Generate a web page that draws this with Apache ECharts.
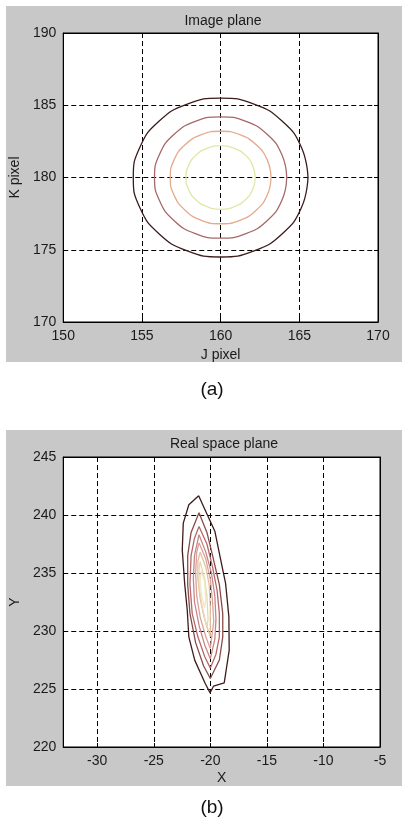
<!DOCTYPE html>
<html>
<head>
<meta charset="utf-8">
<script src="https://cdn.jsdelivr.net/npm/echarts@6/dist/echarts.min.js"></script>
<style>
  html, body { margin: 0; padding: 0; background: #fff; }
  #chart { position: absolute; left: 0; top: 0; width: 402px; height: 819px; }
  .panel { position: absolute; left: 6px; width: 396px; height: 356px; background: #c8c8c8; }
</style>
</head>
<body>
<div class="panel" style="top:6px"></div>
<div class="panel" style="top:430px"></div>
<div id="chart"></div>
<script>
// (a) image plane contours, J/K pixel
const imgXRange = [150, 170]
const imgYRange = [170, 190]
const imgColors = ['#3a1c1c', '#a66868', '#e4ab8c', '#dfe8a8']
const imgContour1 = [[165.55,180],[165.13,182.10],[163.92,183.89],[162.12,185.08],[160,185.5],[157.88,185.08],[156.08,183.89],[154.87,182.10],[154.45,180],[154.87,177.90],[156.08,176.11],[157.88,174.92],[160,174.5],[162.12,174.92],[163.92,176.11],[165.13,177.90],[165.55,180]]
const imgContour2 = [[164.2,180],[163.88,181.61],[162.97,182.97],[161.61,183.88],[160,184.2],[158.39,183.88],[157.03,182.97],[156.12,181.61],[155.8,180],[156.12,178.39],[157.03,177.03],[158.39,176.12],[160,175.8],[161.61,176.12],[162.97,177.03],[163.88,178.39],[164.2,180]]
const imgContour3 = [[163.2,180],[162.96,181.22],[162.26,182.26],[161.22,182.96],[160,183.2],[158.78,182.96],[157.74,182.26],[157.04,181.22],[156.8,180],[157.04,178.78],[157.74,177.74],[158.78,177.04],[160,176.8],[161.22,177.04],[162.26,177.74],[162.96,178.78],[163.2,180]]
const imgContour4 = [[162.2,180],[162.03,180.84],[161.56,181.56],[160.84,182.03],[160,182.2],[159.16,182.03],[158.44,181.56],[157.97,180.84],[157.8,180],[157.97,179.16],[158.44,178.44],[159.16,177.97],[160,177.8],[160.84,177.97],[161.56,178.44],[162.03,179.16],[162.2,180]]

// (b) real space plane contours, X/Y
const realXRange = [-33, -5]
const realYRange = [220, 245]
const realXTicks = [-30, -25, -20, -15, -10, -5]
const realColors = ['#3e1c1c', '#8a4a4a', '#b46a6a', '#c98686', '#d9a29c', '#e2c0a0', '#e8d8b0', '#eeeac4']
const realContour1 = [[-21.03,241.66],[-20.4,240.3],[-19.6,238.6],[-19.14,236.42],[-18.65,234.11],[-18.36,231.23],[-18.33,228.35],[-18.77,225.53],[-19.72,225.24],[-20.02,224.67],[-20.45,225.47],[-21.38,227.49],[-21.9,229.5],[-22.04,231.81],[-22.27,234.11],[-22.48,236.99],[-22.39,239.3],[-21.9,240.88],[-21.03,241.66]]
const realContour2 = [[-21.0,240.2],[-20.3,238.5],[-19.8,236.5],[-19.2,234],[-18.9,231.5],[-18.9,229.5],[-19.2,227.5],[-20.0,225.9],[-20.6,227],[-21.3,229],[-21.8,231.5],[-22.0,234],[-22.0,236.5],[-21.7,238.5],[-21.0,240.2]]
const realContour3 = [[-21.0,239.0],[-20.3,237.5],[-19.8,235.5],[-19.4,233.5],[-19.2,231.5],[-19.2,229.5],[-19.5,228],[-20.0,226.8],[-20.5,227.8],[-21.1,229.5],[-21.6,231.5],[-21.8,234],[-21.7,236.5],[-21.4,238],[-21.0,239.0]]
const realContour4 = [[-21.0,238.3],[-20.4,236.8],[-19.9,235],[-19.6,233],[-19.5,231],[-19.6,229.3],[-20.0,227.6],[-20.5,228.8],[-21.0,230.5],[-21.4,232.5],[-21.5,234.5],[-21.4,236.5],[-21.0,238.3]]
const realContour5 = [[-21.0,237.6],[-20.4,236.2],[-20.0,234.5],[-19.8,232.5],[-19.7,230.8],[-20.0,228.5],[-20.4,229.5],[-20.9,231.2],[-21.2,233],[-21.3,235],[-21.2,236.8],[-21.0,237.6]]
const realContour6 = [[-20.9,236.8],[-20.4,235.5],[-20.1,234],[-20.0,232],[-20.0,229.5],[-20.5,231],[-20.9,232.8],[-21.1,234.5],[-21.1,236],[-20.9,236.8]]
const realContour7 = [[-20.9,236.0],[-20.5,234.5],[-20.3,233],[-20.2,231],[-20.3,230.3],[-20.7,232],[-21.0,233.8],[-21.0,235.3],[-20.9,236.0]]
const realContour8 = [[-20.8,235.2],[-20.5,234.2],[-20.4,232.8],[-20.5,232.0],[-20.8,233.2],[-20.9,234.4],[-20.8,235.2]]

const font = 'Liberation Sans, Arial, sans-serif'
const dash = { color: '#000', width: 1, type: [5, 3] }

const mainAxis = (gridIndex, range, interval, name, position, extra) => Object.assign({
  type: 'value', gridIndex, position, min: range[0], max: range[1], interval,
  name, nameLocation: 'middle',
  nameTextStyle: { fontFamily: font, fontSize: 14, color: '#1a1a1a' },
  axisLine: { show: true, onZero: false, lineStyle: { color: '#000' } },
  axisTick: { show: true, inside: true, length: 4, lineStyle: { color: '#000' } },
  axisLabel: { fontFamily: font, fontSize: 14, color: '#1a1a1a', margin: 7 },
  splitLine: { show: true, lineStyle: dash }
}, extra || {})

const mirrorAxis = (gridIndex, range, interval, position, extra) => Object.assign({
  type: 'value', gridIndex, position, min: range[0], max: range[1], interval,
  axisLine: { show: true, onZero: false, lineStyle: { color: '#000' } },
  axisTick: { show: true, inside: true, length: 4, lineStyle: { color: '#000' } },
  axisLabel: { show: false },
  splitLine: { show: false }
}, extra || {})

const contour = (data, color, xAxisIndex, yAxisIndex, smooth) => ({
  type: 'line', data, xAxisIndex, yAxisIndex, smooth,
  symbol: 'none', silent: true, animation: false,
  lineStyle: { color, width: 1.3 }
})

const realTickExtra = {
  axisTick: { show: true, inside: true, length: 4, lineStyle: { color: '#000' }, customValues: realXTicks },
  axisLabel: { fontFamily: font, fontSize: 14, color: '#1a1a1a', margin: 7, customValues: realXTicks }
}

const option = {
  animation: false,
  title: [
    { text: 'Image plane', left: 218, top: 9, textAlign: 'center',
      textStyle: { fontFamily: font, fontSize: 14, fontWeight: 'normal', color: '#1a1a1a' } },
    { text: 'Real space plane', left: 219, top: 432, textAlign: 'center',
      textStyle: { fontFamily: font, fontSize: 14, fontWeight: 'normal', color: '#1a1a1a' } },
    { text: '(a)', left: 207, top: 375, textAlign: 'center',
      textStyle: { fontFamily: font, fontSize: 19, fontWeight: 'normal', color: '#111' } },
    { text: '(b)', left: 207, top: 793, textAlign: 'center',
      textStyle: { fontFamily: font, fontSize: 19, fontWeight: 'normal', color: '#111' } }
  ],
  grid: [
    { left: 58, top: 33, width: 320, height: 289, show: true, backgroundColor: '#fff', borderColor: '#000', borderWidth: 1 },
    { left: 59, top: 457, width: 321, height: 290, show: true, backgroundColor: '#fff', borderColor: '#000', borderWidth: 1 }
  ],
  xAxis: [
    mainAxis(0, imgXRange, 5, 'J pixel', 'bottom', { nameGap: 26 }),
    mainAxis(1, realXRange, null, 'X', 'bottom', Object.assign({ nameGap: 24 }, realTickExtra)),
    mirrorAxis(0, imgXRange, 5, 'top'),
    mirrorAxis(1, realXRange, null, 'top', { axisTick: { show: true, inside: true, length: 4, lineStyle: { color: '#000' }, customValues: realXTicks } })
  ],
  yAxis: [
    mainAxis(0, imgYRange, 5, 'K pixel', 'left', { nameGap: 38 }),
    mainAxis(1, realYRange, 5, 'Y', 'left', { nameGap: 40 }),
    mirrorAxis(0, imgYRange, 5, 'right'),
    mirrorAxis(1, realYRange, 5, 'right')
  ],
  series: [
    contour(imgContour1, imgColors[0], 0, 0, true),
    contour(imgContour2, imgColors[1], 0, 0, true),
    contour(imgContour3, imgColors[2], 0, 0, true),
    contour(imgContour4, imgColors[3], 0, 0, true),
    contour(realContour1, realColors[0], 1, 1, false),
    contour(realContour2, realColors[1], 1, 1, false),
    contour(realContour3, realColors[2], 1, 1, false),
    contour(realContour4, realColors[3], 1, 1, false),
    contour(realContour5, realColors[4], 1, 1, false),
    contour(realContour6, realColors[5], 1, 1, false),
    contour(realContour7, realColors[6], 1, 1, false),
    contour(realContour8, realColors[7], 1, 1, false)
  ]
}

window.addEventListener('load', () => {
  const myChart = echarts.init(document.getElementById('chart'), null, { renderer: 'canvas' })
  myChart.setOption(option)
})
</script>
</body>
</html>
